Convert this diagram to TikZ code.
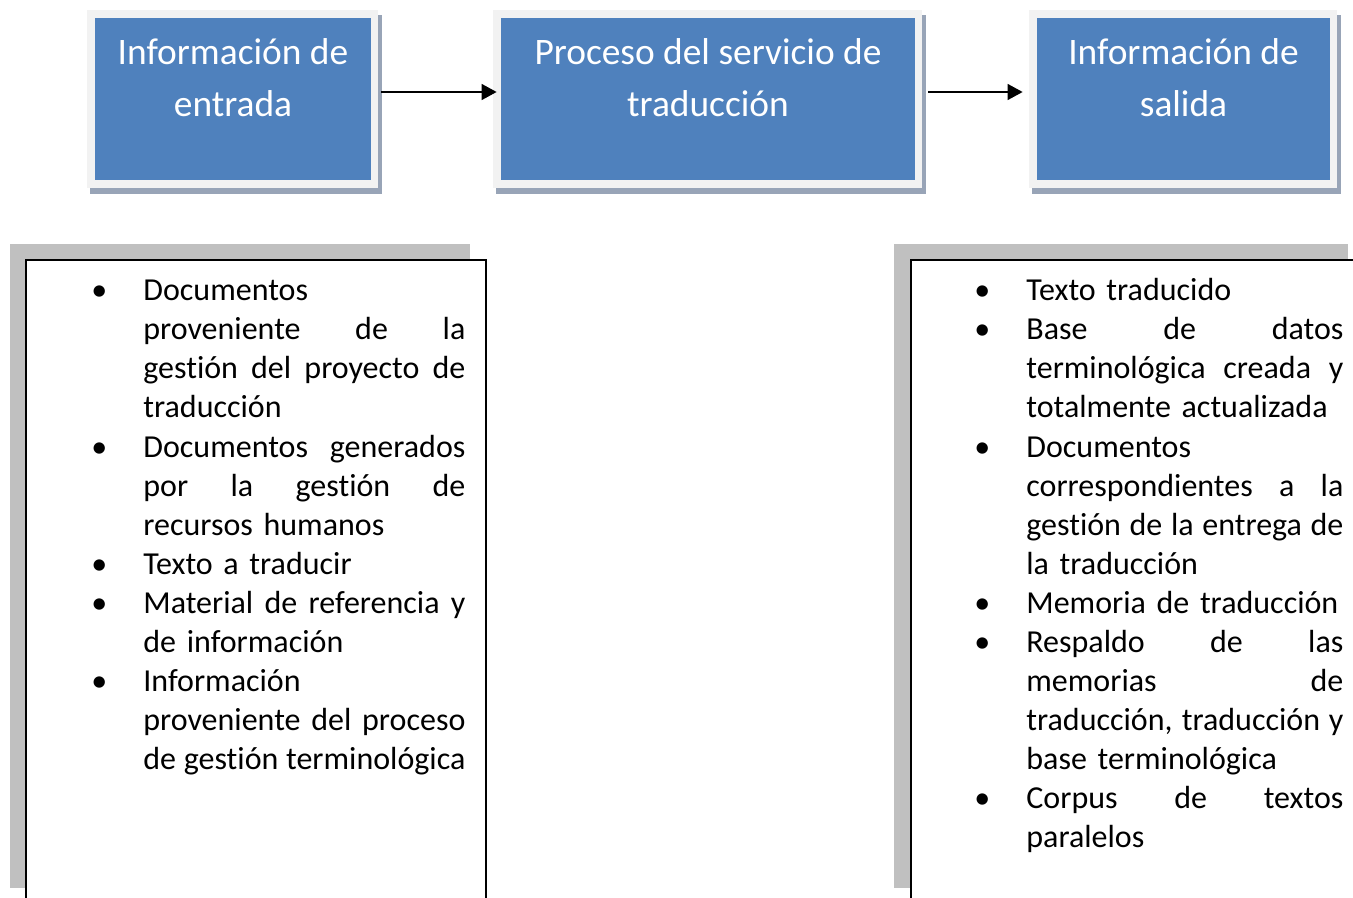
\documentclass[tikz,border=0pt]{standalone}
\usepackage{fontspec}
\setmainfont{Carlito}[Ligatures=NoCommon]
\usetikzlibrary{arrows.meta}
\usetikzlibrary{calc}
\usetikzlibrary{backgrounds}
\definecolor{boxblue}{HTML}{4F81BD}
\definecolor{boxframe}{HTML}{F2F2F2}
\definecolor{boxshade}{HTML}{98A4B7}
\definecolor{listshade}{HTML}{C0C0C0}
\newlength{\listw}
\newcommand{\bul}{\leavevmode\llap{\textbullet\hspace{18pt}}}
\newcommand{\jl}[1]{\makebox[\listw][s]{\spaceskip=.226em plus 1fil minus .1em\relax#1}}
\newcommand{\rl}[1]{\mbox{#1}}
\tikzset{
	stagestyle/.style={rectangle,fill=boxblue,minimum height=81pt,inner sep=0pt},
	stagetext/.style={text=white,align=center,anchor=base,inner sep=0pt,font=\fontsize{18.7}{26}\selectfont},
	liststyle/.style={rectangle,draw=black,line width=1.2pt,fill=white,anchor=north west,inner sep=0pt},
	listtext/.style={anchor=base west,align=left,inner sep=0pt,font=\fontsize{16}{19.5}\selectfont},
	flowstyle/.style={-{Triangle[length=7.5pt,width=8pt]},line width=0.7pt}
}

\begin{document}
\begin{tikzpicture}[x=0.5pt,y=-0.5pt]
	\path[use as bounding box] (0,0) rectangle (1353,898);
	\clip (0,0) rectangle (1353,898);
	\node[stagestyle,minimum width=138pt] (in) at (233,99) {};
	\node[stagestyle,minimum width=207pt] (proc) at (708,99) {};
	\node[stagestyle,minimum width=146.5pt] (out) at (1183.5,99) {};
	\begin{scope}[on background layer]
		\foreach \n in {in,proc,out} {
			\fill[boxshade] ($(\n.north west)+(-5,-3)$) rectangle ($(\n.south east)+(11,14)$);
			\fill[boxframe] ($(\n.north west)+(-8,-8)$) rectangle ($(\n.south east)+(7,8)$);
		}
	\end{scope}
	\node[stagetext] (intitle) at (233,117) {Información de\\entrada};
	\node[stagetext] (proctitle) at (708,117) {Proceso del servicio de\\traducción};
	\node[stagetext] (outtitle) at (1183.5,117) {Información de\\salida};
	\draw[flowstyle,shorten <=5pt,shorten >=2pt] ([yshift=3.5pt]in.east) -- ([yshift=3.5pt]proc.west);
	\draw[flowstyle,shorten <=6.5pt,shorten >=7pt] ([yshift=3.5pt]proc.east) -- ([yshift=3.5pt]out.west);
	\fill[listshade] (10,244) rectangle (470,888);
	\fill[listshade] (894,244) rectangle (1348,888);
	\node[liststyle,minimum width=230pt,minimum height=330pt] (inlist) at (25,259) {};
	\node[liststyle,minimum width=230pt,minimum height=330pt] (outlist) at (910,259) {};
	\node[listtext,text width=161pt] (initems) at (143,301) {%
		\setlength{\listw}{161pt}%
		\bul\rl{Documentos}\\
		\jl{proveniente de la}\\
		\jl{gestión del proyecto de}\\
		\rl{traducción}\\
		\bul\jl{Documentos generados}\\
		\jl{por la gestión de}\\
		\rl{recursos humanos}\\
		\bul\rl{Texto a traducir}\\
		\bul\jl{Material de referencia y}\\
		\rl{de información}\\
		\bul\rl{Información}\\
		\jl{proveniente del proceso}\\
		\jl{de gestión terminológica}};
	\node[listtext,text width=158.5pt] (outitems) at (1026,301) {%
		\setlength{\listw}{158.5pt}%
		\bul\rl{Texto traducido}\\
		\bul\jl{Base de datos}\\
		\jl{terminológica creada y}\\
		\rl{totalmente actualizada}\\
		\bul\rl{Documentos}\\
		\jl{correspondientes a la}\\
		\jl{gestión de la entrega de}\\
		\rl{la traducción}\\
		\bul\rl{Memoria de traducción}\\
		\bul\jl{Respaldo de las}\\
		\jl{memorias de}\\
		\jl{traducción, traducción y}\\
		\rl{base terminológica}\\
		\bul\jl{Corpus de textos}\\
		\rl{paralelos}};
\end{tikzpicture}
\end{document}
